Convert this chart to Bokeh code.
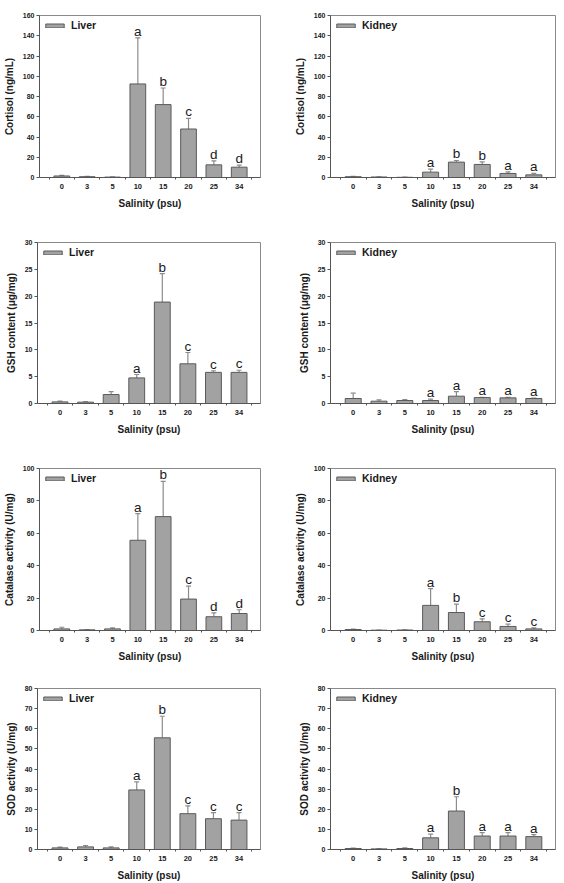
from bokeh.plotting import figure
from bokeh.models import (ColumnDataSource, FixedTicker, Whisker, TeeHead, LabelSet,
                          Legend, LegendItem, Range1d)
from bokeh.core.properties import value
from bokeh.layouts import column, row
from bokeh.embed import file_html
from bokeh.resources import INLINE

salinity = ["0", "3", "5", "10", "15", "20", "25", "34"]

liver_cortisol = [1.5, 0.8, 0.4, 92.4, 72.0, 47.9, 12.5, 10.2]
liver_cortisol_err = [0.6, 0.4, 0.2, 45.6, 16.4, 10.5, 4.0, 2.0]
liver_cortisol_letters = ["", "", "", "a", "b", "c", "d", "d"]

kidney_cortisol = [0.8, 0.5, 0.2, 5.3, 15.2, 12.9, 4.0, 2.6]
kidney_cortisol_err = [0.3, 0.2, 0.1, 2.9, 1.6, 2.6, 1.6, 1.4]
kidney_cortisol_letters = ["", "", "", "a", "b", "b", "a", "a"]

liver_gsh = [0.3, 0.25, 1.67, 4.77, 18.9, 7.4, 5.8, 5.8]
liver_gsh_err = [0.13, 0.12, 0.53, 0.63, 5.3, 2.1, 0.3, 0.4]
liver_gsh_letters = ["", "", "", "a", "b", "c", "c", "c"]

kidney_gsh = [0.93, 0.43, 0.56, 0.56, 1.36, 1.1, 1.05, 0.93]
kidney_gsh_err = [0.99, 0.25, 0.18, 0.24, 0.84, 0.05, 0.1, 0.07]
kidney_gsh_letters = ["", "", "", "a", "a", "a", "a", "a"]

liver_cat = [1.0, 0.4, 1.0, 55.7, 70.3, 19.4, 8.5, 10.5]
liver_cat_err = [1.0, 0.1, 0.6, 16.5, 21.7, 8.0, 2.4, 2.3]
liver_cat_letters = ["", "", "", "a", "b", "c", "d", "d"]

kidney_cat = [0.6, 0.2, 0.3, 15.5, 11.1, 5.4, 2.5, 1.0]
kidney_cat_err = [0.2, 0.1, 0.1, 10.3, 5.2, 1.8, 1.4, 0.6]
kidney_cat_letters = ["", "", "", "a", "b", "c", "c", "c"]

liver_sod = [0.8, 1.3, 0.8, 29.6, 55.5, 17.8, 15.3, 14.6]
liver_sod_err = [0.4, 0.7, 0.5, 4.0, 10.7, 3.9, 3.0, 3.7]
liver_sod_letters = ["", "", "", "a", "b", "c", "c", "c"]

kidney_sod = [0.5, 0.3, 0.5, 5.8, 19.1, 6.7, 6.7, 6.4]
kidney_sod_err = [0.2, 0.1, 0.3, 1.8, 7.1, 1.7, 1.7, 1.0]
kidney_sod_letters = ["", "", "", "a", "b", "a", "a", "a"]

y_titles = ["Cortisol (ng/mL)", "GSH content (\u03bcg/mg)", "Catalase activity (U/mg)", "SOD activity (U/mg)"]
y_max = [160, 30, 100, 80]
y_step = [20, 5, 20, 10]
tissues = ["Liver", "Kidney"]
x_title = "Salinity (psu)"

FONT = "Liberation Sans"
BAR_FILL = "#a2a2a2"
BAR_LINE = "#5a5a5a"
ERR_COLOR = "#8c8c8c"
FRAME = "#8a8a8a"
TEXT = "#1a1a1a"


def make_panel(vals, errs, letters, tissue, ytitle, ymax, ystep, width, height,
               left, right, top, bottom):
    n = len(salinity)
    xs = list(range(n))
    src = ColumnDataSource(dict(
        x=xs, y=vals, upper=[v + e for v, e in zip(vals, errs)], letter=letters))
    p = figure(width=width, height=height, output_backend="svg", toolbar_location=None,
               min_border_left=left, min_border_right=right, min_border_top=top,
               min_border_bottom=bottom,
               x_range=Range1d(-0.88, 7.84), y_range=Range1d(0, ymax))
    p.background_fill_color = "white"
    p.border_fill_color = "white"
    p.outline_line_color = FRAME
    p.outline_line_width = 1
    p.grid.visible = False

    r = p.vbar(x="x", top="y", width=0.62, bottom=0, source=src,
               fill_color=BAR_FILL, line_color=BAR_LINE, line_width=1)

    w = Whisker(source=src, base="x", upper="upper", lower="y", dimension="height",
                line_color=ERR_COLOR, line_width=1.2,
                upper_head=TeeHead(size=5, line_color=ERR_COLOR, line_width=1.2),
                lower_head=None)
    p.add_layout(w)

    lbl = LabelSet(source=src, x="x", y="upper", text="letter", text_align="center",
                   text_baseline="alphabetic", y_offset=2, text_font=value(FONT),
                   text_font_size=value("13.5px"), text_color=value(TEXT))
    p.add_layout(lbl)

    # x axis
    xa = p.xaxis[0]
    xa.ticker = FixedTicker(ticks=xs, minor_ticks=[i - 0.5 for i in range(n + 1)])
    xa.major_label_overrides = {i: s for i, s in enumerate(salinity)}
    xa.major_tick_line_color = None
    xa.major_tick_out = 0
    xa.major_tick_in = 0
    xa.minor_tick_out = 2
    xa.minor_tick_in = 0
    xa.minor_tick_line_color = "#555555"
    xa.axis_line_color = "#555555"
    xa.major_label_standoff = 4
    xa.major_label_text_font = FONT
    xa.major_label_text_font_style = "bold"
    xa.major_label_text_font_size = "7.5px"
    xa.major_label_text_color = TEXT
    xa.axis_label = x_title
    xa.axis_label_standoff = 6
    xa.axis_label_text_font = FONT
    xa.axis_label_text_font_style = "bold"
    xa.axis_label_text_font_size = "10px"
    xa.axis_label_text_color = TEXT

    ya = p.yaxis[0]
    ya.ticker = FixedTicker(ticks=list(range(0, ymax + 1, ystep)))
    ya.minor_tick_line_color = None
    ya.major_tick_out = 3
    ya.major_tick_in = 0
    ya.major_tick_line_color = "#555555"
    ya.axis_line_color = "#555555"
    ya.major_label_standoff = 2
    ya.major_label_text_font = FONT
    ya.major_label_text_font_style = "bold"
    ya.major_label_text_font_size = "7px"
    ya.major_label_text_color = TEXT
    ya.axis_label = ytitle
    ya.axis_label_standoff = 5
    ya.axis_label_text_font = FONT
    ya.axis_label_text_font_style = "bold"
    ya.axis_label_text_font_size = "10px"
    ya.axis_label_text_color = TEXT

    leg = Legend(items=[LegendItem(label=tissue, renderers=[r])], location="top_left",
                 margin=4, padding=7, glyph_width=23, glyph_height=5, label_height=5,
                 label_standoff=5, spacing=0,
                 label_text_font=FONT, label_text_font_style="bold",
                 label_text_font_size="10.5px", label_text_color=TEXT,
                 background_fill_alpha=0, border_line_color=None)
    p.add_layout(leg)
    return p


panels = [
    (liver_cortisol, liver_cortisol_err, liver_cortisol_letters,
     kidney_cortisol, kidney_cortisol_err, kidney_cortisol_letters),
    (liver_gsh, liver_gsh_err, liver_gsh_letters,
     kidney_gsh, kidney_gsh_err, kidney_gsh_letters),
    (liver_cat, liver_cat_err, liver_cat_letters,
     kidney_cat, kidney_cat_err, kidney_cat_letters),
    (liver_sod, liver_sod_err, liver_sod_letters,
     kidney_sod, kidney_sod_err, kidney_sod_letters),
]

row_heights = [226, 226, 220, 211]
row_tops = [15, 16, 16, 16]
frame_h = [162, 161, 162, 162]

rows = []
for k, (lv, le, ll, kv, ke, kl) in enumerate(panels):
    h = row_heights[k]
    t = row_tops[k]
    b = h - t - frame_h[k]
    pl = make_panel(lv, le, ll, tissues[0], y_titles[k], y_max[k], y_step[k],
                    282, h, 37, 22, t, b)
    pr = make_panel(kv, ke, kl, tissues[1], y_titles[k], y_max[k], y_step[k],
                    282, h, 48, 9, t, b)
    rows.append(row(pl, pr))

layout = column(*rows)
open("out.html", "w").write(file_html(layout, INLINE))
